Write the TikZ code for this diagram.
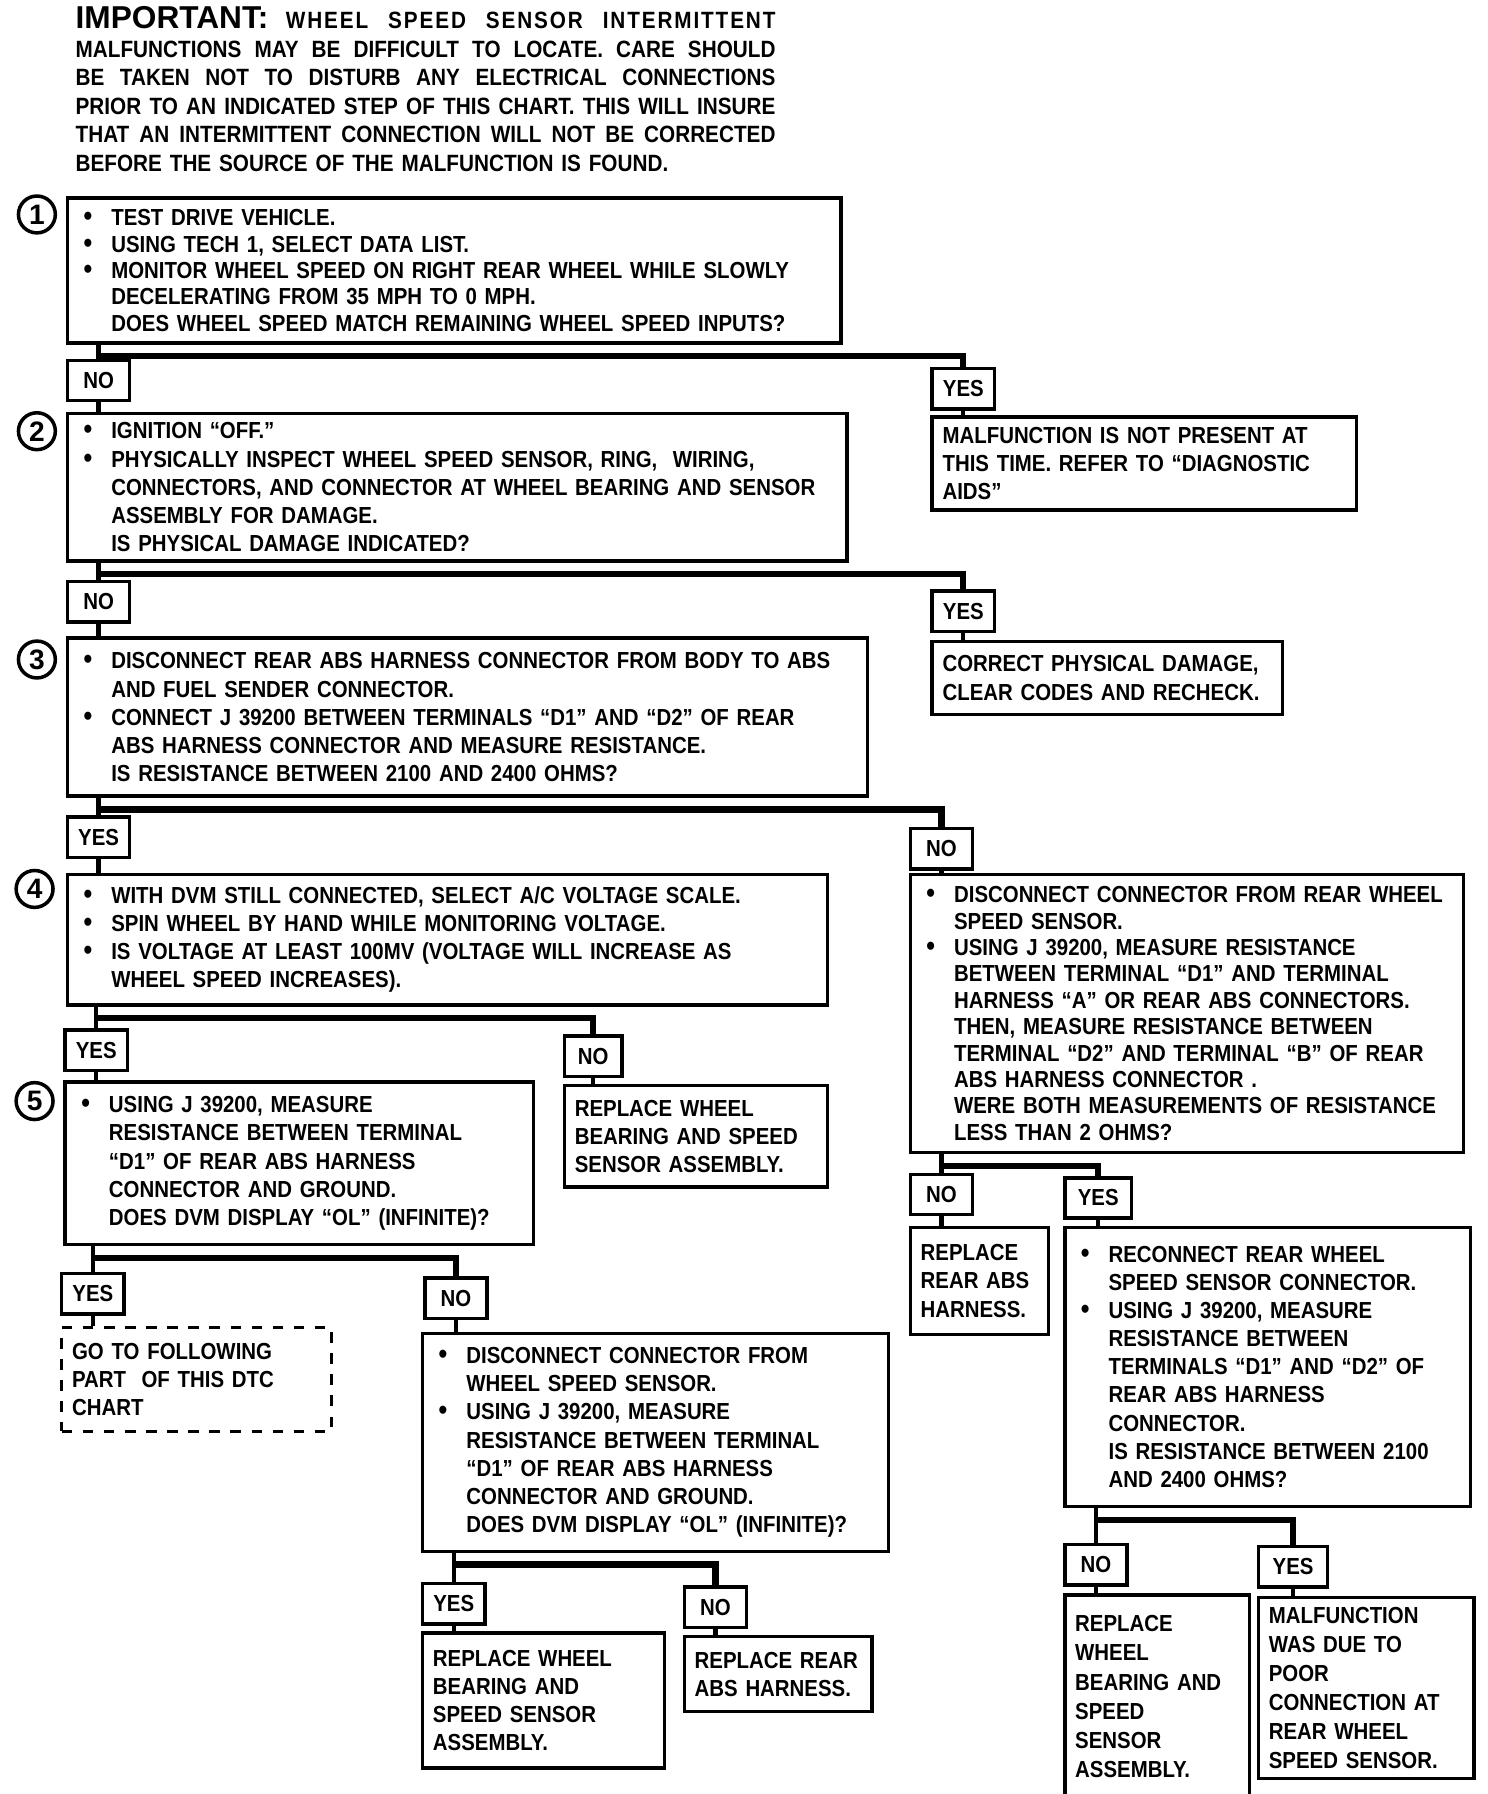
\documentclass[tikz,border=0pt]{standalone}
\usepackage{fontspec}
\newfontfamily\chartfont{Liberation Sans}[FakeStretch=0.88]
\newfontfamily\notefont{Liberation Sans}
\usetikzlibrary{calc}
\newlength\ux
\setlength\ux{0.328pt}
\newcommand\chartsize{\chartfont\bfseries\fontsize{6.6}{8}\selectfont}
\newcommand\bitem{\makebox[24\ux][l]{\smash{\fontsize{8}{7}\selectfont\textbullet}}}
\newcommand\bcont{\hspace*{24\ux}}
\newcommand\fullline[1]{\leavevmode\hbox to 607\ux{\spaceskip=0.25em plus 1em minus 0.08em\relax #1}}

\begin{document}
\begin{tikzpicture}[x=0.328pt, y=-0.328pt,
    stepbox/.style={draw, line width=1pt, anchor=north west, align=left,
        inner xsep=14\ux, inner ysep=0pt, font=\chartsize},
    endbox/.style={stepbox, inner xsep=9\ux},
    tag/.style={draw, line width=1pt, anchor=north west, minimum width=54\ux,
        minimum height=35\ux, inner sep=0pt, font=\chartsize},
    num/.style={circle, draw, line width=1pt, minimum size=32\ux, inner sep=0pt,
        font=\notefont\bfseries\fontsize{8}{8}\selectfont},
    link/.style={line width=1.2pt},
    bar/.style={line width=1.8pt}]
        \useasboundingbox (0,0) rectangle (1290.5,1556);
        % note at the top
        \node[anchor=north west, inner sep=0pt, text width=607\ux, align=left,
            font=\chartfont\bfseries\fontsize{6.7}{8.13}\selectfont] (note) at (65,5)
            {\fullline{{\notefont\fontsize{9}{8.13}\selectfont IMPORTANT:}\hspace{5pt}{\addfontfeature{LetterSpace=8}WHEEL SPEED SENSOR INTERMITTENT}}\\
             \fullline{MALFUNCTIONS MAY BE DIFFICULT TO LOCATE. CARE SHOULD}\\
             \fullline{BE TAKEN NOT TO DISTURB ANY ELECTRICAL CONNECTIONS}\\
             \fullline{PRIOR TO AN INDICATED STEP OF THIS CHART. THIS WILL INSURE}\\
             \fullline{THAT AN INTERMITTENT CONNECTION WILL NOT BE CORRECTED}\\
             BEFORE THE SOURCE OF THE MALFUNCTION IS FOUND.};
        % steps
        \node[stepbox, text width=643\ux, minimum height=126\ux,
            font=\chartfont\bfseries\fontsize{6.6}{7.5}\selectfont] (b1) at (57,170)
            {\bitem TEST DRIVE VEHICLE.\\
             \bitem USING TECH 1, SELECT DATA LIST.\\
             \bitem MONITOR WHEEL SPEED ON RIGHT REAR WHEEL WHILE SLOWLY\\
             \bcont DECELERATING FROM 35 MPH TO 0 MPH.\\
             \bcont DOES WHEEL SPEED MATCH REMAINING WHEEL SPEED INPUTS?};
        \node[num] (c1) at (32,186) {1};
        \node[stepbox, text width=648\ux, minimum height=128\ux] (b2) at (57,357)
            {\bitem IGNITION “OFF.”\\
             \bitem PHYSICALLY INSPECT WHEEL SPEED SENSOR, RING,\ \ WIRING,\\
             \bcont CONNECTORS, AND CONNECTOR AT WHEEL BEARING AND SENSOR\\
             \bcont ASSEMBLY FOR DAMAGE.\\
             \bcont IS PHYSICAL DAMAGE INDICATED?};
        \node[num] (c2) at (32,374) {2};
        \node[stepbox, text width=666\ux, minimum height=137\ux] (b3) at (57,552)
            {\bitem DISCONNECT REAR ABS HARNESS CONNECTOR FROM BODY TO ABS\\
             \bcont AND FUEL SENDER CONNECTOR.\\
             \bitem CONNECT J 39200 BETWEEN TERMINALS “D1” AND “D2” OF REAR\\
             \bcont ABS HARNESS CONNECTOR AND MEASURE RESISTANCE.\\
             \bcont IS RESISTANCE BETWEEN 2100 AND 2400 OHMS?};
        \node[num] (c3) at (32,572) {3};
        \node[stepbox, text width=631\ux, minimum height=113\ux] (b4) at (57,757)
            {\bitem WITH DVM STILL CONNECTED, SELECT A/C VOLTAGE SCALE.\\
             \bitem SPIN WHEEL BY HAND WHILE MONITORING VOLTAGE.\\
             \bitem IS VOLTAGE AT LEAST 100MV (VOLTAGE WILL INCREASE AS\\
             \bcont WHEEL SPEED INCREASES).};
        \node[num] (c4) at (30,771) {4};
        \node[stepbox, text width=378\ux, minimum height=141\ux] (b5) at (55,937)
            {\bitem USING J 39200, MEASURE\\
             \bcont RESISTANCE BETWEEN TERMINAL\\
             \bcont “D1” OF REAR ABS HARNESS\\
             \bcont CONNECTOR AND GROUND.\\
             \bcont DOES DVM DISPLAY “OL” (INFINITE)?};
        \node[num] (c5) at (30,955) {5};
        \node[stepbox, text width=376\ux, minimum height=189\ux] (b6) at (365,1155)
            {\bitem DISCONNECT CONNECTOR FROM\\
             \bcont WHEEL SPEED SENSOR.\\
             \bitem USING J 39200, MEASURE\\
             \bcont RESISTANCE BETWEEN TERMINAL\\
             \bcont “D1” OF REAR ABS HARNESS\\
             \bcont CONNECTOR AND GROUND.\\
             \bcont DOES DVM DISPLAY “OL” (INFINITE)?};
        \node[stepbox, text width=452\ux, minimum height=241\ux,
            font=\chartfont\bfseries\fontsize{6.6}{7.5}\selectfont] (bR1) at (788,757)
            {\bitem DISCONNECT CONNECTOR FROM REAR WHEEL\\
             \bcont SPEED SENSOR.\\
             \bitem USING J 39200, MEASURE RESISTANCE\\
             \bcont BETWEEN TERMINAL “D1” AND TERMINAL\\
             \bcont HARNESS “A” OR REAR ABS CONNECTORS.\\
             \bcont THEN, MEASURE RESISTANCE BETWEEN\\
             \bcont TERMINAL “D2” AND TERMINAL “B” OF REAR\\
             \bcont ABS HARNESS CONNECTOR .\\
             \bcont WERE BOTH MEASUREMENTS OF RESISTANCE\\
             \bcont LESS THAN 2 OHMS?};
        \node[stepbox, text width=324\ux, minimum height=242\ux] (bR2) at (922,1063)
            {\bitem RECONNECT REAR WHEEL\\
             \bcont SPEED SENSOR CONNECTOR.\\
             \bitem USING J 39200, MEASURE\\
             \bcont RESISTANCE BETWEEN\\
             \bcont TERMINALS “D1” AND “D2” OF\\
             \bcont REAR ABS HARNESS\\
             \bcont CONNECTOR.\\
             \bcont IS RESISTANCE BETWEEN 2100\\
             \bcont AND 2400 OHMS?};
        % results
        \node[endbox, text width=350\ux, minimum height=81\ux] (mal1) at (807,360)
            {MALFUNCTION IS NOT PRESENT AT\\ THIS TIME. REFER TO “DIAGNOSTIC\\ AIDS”};
        \node[endbox, text width=286\ux, minimum height=63\ux] (cor) at (807,555)
            {CORRECT PHYSICAL DAMAGE,\\ CLEAR CODES AND RECHECK.};
        \node[endbox, text width=210\ux, minimum height=88\ux] (r4) at (488,940)
            {REPLACE WHEEL\\ BEARING AND SPEED\\ SENSOR ASSEMBLY.};
        \node[endbox, dashed, text width=216\ux, minimum height=90\ux] (go) at (52,1150)
            {GO TO FOLLOWING\\ PART\ \ OF THIS DTC\\ CHART};
        \node[endbox, text width=192\ux, minimum height=117\ux] (r6y) at (365,1415)
            {REPLACE WHEEL\\ BEARING AND\\ SPEED SENSOR\\ ASSEMBLY.};
        \node[endbox, text width=145\ux, minimum height=65\ux] (r6n) at (592,1418)
            {REPLACE REAR\\ ABS HARNESS.};
        \node[endbox, text width=102\ux, minimum height=93\ux] (rR) at (788,1063)
            {REPLACE\\ REAR ABS\\ HARNESS.};
        \node[endbox, text width=142\ux, minimum height=176\ux,
            font=\chartfont\bfseries\fontsize{6.6}{8.3}\selectfont] (rR2) at (922,1382)
            {REPLACE\\ WHEEL\\ BEARING AND\\ SPEED\\ SENSOR\\ ASSEMBLY.};
        \node[endbox, text width=169\ux, minimum height=157\ux,
            font=\chartfont\bfseries\fontsize{6.6}{8.3}\selectfont] (mal2) at (1090,1384)
            {MALFUNCTION\\ WAS DUE TO\\ POOR\\ CONNECTION AT\\ REAR WHEEL\\ SPEED SENSOR.};
        % yes / no tags
        \node[tag] (n1) at (57,311) {NO};
        \node[tag] (y1) at (807,318) {YES};
        \node[tag] (n2) at (57,503) {NO};
        \node[tag] (y2) at (807,511) {YES};
        \node[tag] (y3) at (57,707) {YES};
        \node[tag] (n3) at (788,717) {NO};
        \node[tag] (y4) at (55,892) {YES};
        \node[tag, minimum width=50\ux] (n4) at (488,897) {NO};
        \node[tag] (y5) at (52,1103) {YES};
        \node[tag] (n5) at (367,1107) {NO};
        \node[tag] (y6) at (365,1372) {YES};
        \node[tag] (n6) at (592,1375) {NO};
        \node[tag] (nR1) at (788,1017) {NO};
        \node[tag, minimum width=58\ux] (yR1) at (922,1020) {YES};
        \node[tag] (nR2) at (922,1338) {NO};
        \node[tag, minimum width=60\ux] (yR2) at (1090,1340) {YES};
        % forks
        \foreach \b/\l/\r in {b1/n1/y1, b2/n2/y2, b3/y3/n3, b4/y4/n4,
                b5/y5/n5, b6/y6/n6, bR1/nR1/yR1, bR2/nR2/yR2} {
            \draw[link] (\b.south -| \l.north) -- (\l.north);
            \draw[bar] ($(\b.south -| \l.north)+(0,10)$) -| (\r.north);
        }
        \foreach \a/\c in {n1/b2, y1/mal1, n2/b3, y2/cor, y3/b4, n3/bR1, y4/b5,
                n4/r4, y5/go, n5/b6, y6/r6y, n6/r6n, nR1/rR, yR1/bR2, nR2/rR2, yR2/mal2}
            \draw[link] (\a.south) -- (\a.south |- \c.north);
\end{tikzpicture}
\end{document}
